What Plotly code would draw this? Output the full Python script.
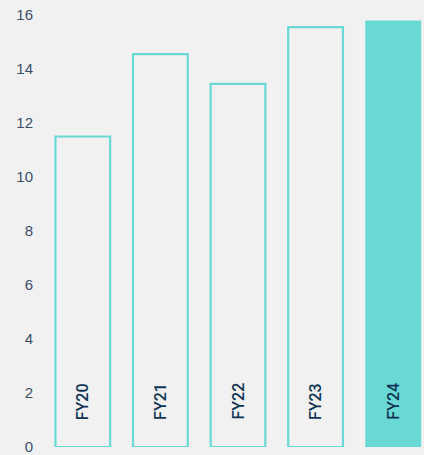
import plotly.graph_objects as go

categories = ["FY20", "FY21", "FY22", "FY23", "FY24"]
values = [11.5, 14.55, 13.45, 15.55, 15.8]
highlight = [False, False, False, False, True]
y_ticks = [0, 2, 4, 6, 8, 10, 12, 14, 16]

teal = "#68d9d4"
bg = "#f1f1f1"
navy = "#0f3454"

fig = go.Figure()
fig.add_trace(go.Bar(
    x=categories,
    y=values,
    width=[0.72 if h else 0.705 for h in highlight],
    marker=dict(
        color=[teal if h else "rgba(0,0,0,0)" for h in highlight],
        line=dict(color=teal, width=[0 if h else 2.2 for h in highlight]),
    ),
    hoverinfo="skip",
))

for c in categories:
    fig.add_annotation(
        x=c, y=0, yshift=25, text=c, textangle=-90,
        showarrow=False, xanchor="center", yanchor="bottom",
        font=dict(family="Roboto, Liberation Sans, Arial, sans-serif", size=16,
                  color=navy, weight=500),
    )

fig.update_layout(
    width=424, height=455,
    margin=dict(l=44, r=0, t=15, b=8),
    paper_bgcolor=bg, plot_bgcolor=bg,
    showlegend=False,
    font=dict(family="Liberation Sans, Arial, sans-serif"),
    xaxis=dict(range=[-0.5, 4.397], showticklabels=False, showgrid=False,
               zeroline=False, showline=False, ticks=""),
    yaxis=dict(range=[0, 16], tickvals=y_ticks, showgrid=False, zeroline=False,
               showline=False, ticks="", ticklabelstandoff=10,
               ticklabeloverflow="allow",
               tickfont=dict(size=15, color="#3b5068")),
)

fig.write_html(
    "out.html",
    config={"displayModeBar": False},
    post_script="document.body.style.margin='0';document.body.style.background='#f1f1f1';",
)
